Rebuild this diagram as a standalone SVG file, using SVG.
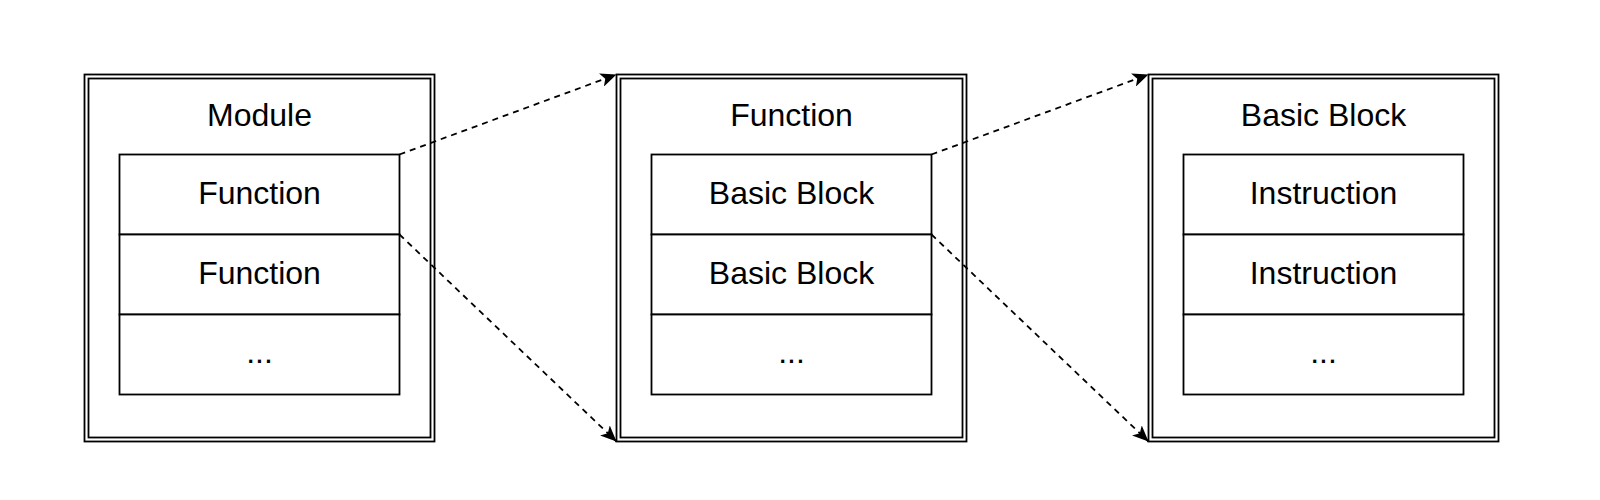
<svg xmlns="http://www.w3.org/2000/svg" width="1600" height="500" viewBox="0 0 1600 500">
<style>
  .frame { fill: none; stroke: #000; stroke-width: 1.8; }
  .cell { fill: #fff; stroke: #000; stroke-width: 1.8; }
  .lbl { font-family: "Liberation Sans", Arial, Helvetica, sans-serif; font-size: 32px; fill: #000; text-anchor: middle; }
  .conn { fill: none; stroke: #000; stroke-width: 1.8; stroke-dasharray: 6 5; }
</style>
<defs>
  <marker id="arrow" markerUnits="userSpaceOnUse" markerWidth="18" markerHeight="14" refX="16" refY="7" orient="auto">
    <path d="M0,0 L16,7 L0,14 L4,7 z" fill="#000" stroke="none"/>
  </marker>
</defs>
<rect width="1600" height="500" fill="#fff"/>

<g id="module">
  <rect class="frame" x="84.5" y="74.5" width="350" height="367"/>
  <rect class="frame" x="88.5" y="78.5" width="342" height="359"/>
  <text class="lbl" x="259.5" y="125.5">Module</text>
  <rect class="cell" x="119.5" y="154.5" width="280" height="80"/>
  <rect class="cell" x="119.5" y="234.5" width="280" height="80"/>
  <rect class="cell" x="119.5" y="314.5" width="280" height="80"/>
  <text class="lbl" x="259.5" y="204">Function</text>
  <text class="lbl" x="259.5" y="284">Function</text>
  <text class="lbl" x="259.5" y="363">...</text>
</g>

<g id="function">
  <rect class="frame" x="616.5" y="74.5" width="350" height="367"/>
  <rect class="frame" x="620.5" y="78.5" width="342" height="359"/>
  <text class="lbl" x="791.5" y="125.5">Function</text>
  <rect class="cell" x="651.5" y="154.5" width="280" height="80"/>
  <rect class="cell" x="651.5" y="234.5" width="280" height="80"/>
  <rect class="cell" x="651.5" y="314.5" width="280" height="80"/>
  <text class="lbl" x="791.5" y="204">Basic Block</text>
  <text class="lbl" x="791.5" y="284">Basic Block</text>
  <text class="lbl" x="791.5" y="363">...</text>
</g>

<g id="basicblock">
  <rect class="frame" x="1148.5" y="74.5" width="350" height="367"/>
  <rect class="frame" x="1152.5" y="78.5" width="342" height="359"/>
  <text class="lbl" x="1323.5" y="125.5">Basic Block</text>
  <rect class="cell" x="1183.5" y="154.5" width="280" height="80"/>
  <rect class="cell" x="1183.5" y="234.5" width="280" height="80"/>
  <rect class="cell" x="1183.5" y="314.5" width="280" height="80"/>
  <text class="lbl" x="1323.5" y="204">Instruction</text>
  <text class="lbl" x="1323.5" y="284">Instruction</text>
  <text class="lbl" x="1323.5" y="363">...</text>
</g>

<g id="connectors">
  <path class="conn" d="M399.5,154.5 L616.5,74.5" marker-end="url(#arrow)"/>
  <path class="conn" d="M399.5,234.5 L616.5,441.5" marker-end="url(#arrow)"/>
  <path class="conn" d="M931.5,154.5 L1148.5,74.5" marker-end="url(#arrow)"/>
  <path class="conn" d="M931.5,234.5 L1148.5,441.5" marker-end="url(#arrow)"/>
</g>
</svg>
